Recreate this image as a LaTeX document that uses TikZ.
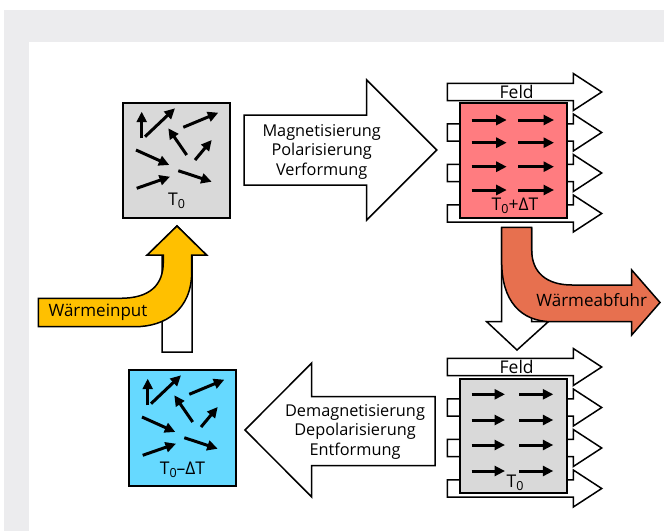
\documentclass[tikz,border=0pt]{standalone}
\usepackage{fontspec}
\setmainfont{Open Sans}
\usetikzlibrary{arrows.meta}
\definecolor{bggray}{HTML}{ECECEE}
\definecolor{boxgray}{HTML}{D9D9D9}
\definecolor{boxcyan}{HTML}{66D9FF}
\definecolor{boxred}{HTML}{FF7C80}
\definecolor{heatorange}{HTML}{E7704F}
\definecolor{heatyellow}{HTML}{FFC000}
\newcommand{\Tnull}{T\raisebox{-0.35ex}{\fontsize{12.5}{12.5}\selectfont 0}}
\begin{document}
\begin{tikzpicture}[x=1pt,y=-1pt,
  outl/.style={draw=black, line width=1.5pt, line join=miter, fill=white},
  boxst/.style={draw=black, line width=2pt},
  vec/.style={line width=3pt, -{Triangle[length=10.5pt,width=10pt]}},
  lbl/.style={font=\fontsize{17.5}{20}\selectfont, inner sep=0pt},
  bigtxt/.style={font=\fontsize{16.3}{19.5}\selectfont, align=center, inner sep=0pt},
  heattxt/.style={font=\fontsize{17}{19}\selectfont, inner sep=0pt}]
\useasboundingbox (0,0) rectangle (664,531);
% background frame
\fill[bggray] (4,10) rectangle (664,531);
\fill[white] (29,42) rectangle (664,531);

% ---- top-left box (T0)
\draw[boxst, fill=boxgray] (123,103) rectangle (230,218);
\begin{scope}
  \draw[vec] (141.7,138.3) -- (141.7,111.7);
  \draw[vec] (145,136.7) -- (175,108.3);
  \draw[vec] (183.3,127.3) -- (218.3,112.7);
  \draw[vec] (186.7,155) -- (168.3,128.3);
  \draw[vec] (195,160) -- (211.7,140);
  \draw[vec] (136,150) -- (169.3,165);
  \draw[vec] (178.3,170.7) -- (211.7,181.7);
  \draw[vec] (136.7,188.3) -- (170,176.7);
\end{scope}
\node[lbl] (t0a) at (176.5,201) {\Tnull};

% ---- bottom-left box (T0-dT)
\draw[boxst, fill=boxcyan] (129,370) rectangle (236,486);
\begin{scope}[shift={(6,267)}]
  \draw[vec] (141.7,138.3) -- (141.7,111.7);
  \draw[vec] (145,136.7) -- (175,108.3);
  \draw[vec] (183.3,127.3) -- (218.3,112.7);
  \draw[vec] (186.7,155) -- (168.3,128.3);
  \draw[vec] (195,160) -- (211.7,140);
  \draw[vec] (136,150) -- (169.3,165);
  \draw[vec] (178.3,170.7) -- (211.7,181.7);
  \draw[vec] (136.7,188.3) -- (170,176.7);
\end{scope}
\node[lbl] (t0c) at (182.5,470) {\Tnull–ΔT};

% ---- big right arrow
\draw[outl] (244,115) -- (366.7,115) -- (366.7,80) -- (436.7,150) -- (366.7,220) -- (366.7,185) -- (244,185) -- cycle;
\node[bigtxt] (mag) at (321.7,151.5) {Magnetisierung\\Polarisierung\\Verformung};

% ---- big left arrow
\draw[outl] (435,396.5) -- (311.7,396.5) -- (311.7,363) -- (245,430) -- (311.7,497) -- (311.7,465.5) -- (435,465.5) -- cycle;
\node[bigtxt] (demag) at (355,431.5) {Demagnetisierung\\Depolarisierung\\Entformung};

% ---- field arrows top-right
\foreach \c in {92,132.5,173,213.5}{
  \draw[outl] (447.3,\c-8.7) -- (573.3,\c-8.7) -- (573.3,\c-18.5) -- (601.7,\c) -- (573.3,\c+18.5) -- (573.3,\c+8.7) -- (447.3,\c+8.7) -- cycle;
}
\node[lbl] (feld1) at (516.7,91.5) {Feld};
\draw[boxst, fill=boxred] (460,103.3) rectangle (566.7,218.3);
\foreach \r in {120,142.7,166.7,190}{
  \draw[vec] (471.7,\r) -- (506.7,\r);
  \draw[vec] (518.3,\r) -- (554,\r);
}
\node[lbl] (t0b) at (515,206) {\Tnull+ΔT};

% ---- field arrows bottom-right
\foreach \c in {367,407.5,448,488.5}{
  \draw[outl] (447.3,\c-8.7) -- (573.3,\c-8.7) -- (573.3,\c-18.5) -- (601.7,\c) -- (573.3,\c+18.5) -- (573.3,\c+8.7) -- (447.3,\c+8.7) -- cycle;
}
\node[lbl] (feld2) at (516.7,366.5) {Feld};
\draw[boxst, fill=boxgray] (460,379) rectangle (566.7,493.3);
\foreach \r in {394.3,420,445,471}{
  \draw[vec] (471.7,\r) -- (505,\r);
  \draw[vec] (519.3,\r) -- (553.3,\r);
}
\node[lbl] (t0d) at (515,483) {\Tnull};

% ---- white down arrow + orange heat removal
\draw[outl] (501.7,228) -- (531.7,228) -- (531.7,321.7) -- (548.3,321.7) -- (517,350) -- (486.7,321.7) -- (501.7,321.7) -- cycle;
\draw[outl, fill=heatorange] (501.7,227.3) -- (501.7,262) .. controls (501.7,300) and (520,321.7) .. (552,321.7) -- (631.7,321.7) -- (631.7,335) -- (660,302.5) -- (631.7,270) -- (631.7,285) -- (572,285) .. controls (546,285) and (531.7,272) .. (531.7,250) -- (531.7,227.3) -- cycle;
\node[heattxt] (abf) at (591.7,300) {Wärmeabfuhr};

% ---- white up arrow + yellow heat input
\draw[outl] (162,352) -- (162,255) -- (147.3,255) -- (177,226) -- (206.5,255) -- (192,255) -- (192,352) -- cycle;
\draw[outl, fill=heatyellow] (38.3,298.3) -- (120,298.3) .. controls (150,298.3) and (163.3,285) .. (163.3,262) -- (163.3,255) -- (147.3,255) -- (177,226) -- (206.5,255) -- (191.7,255) -- (191.7,272) .. controls (191.7,310) and (165,326.7) .. (135,326.7) -- (38.3,326.7) -- cycle;
\node[heattxt] (inp) at (98,312) {Wärmeinput};
\end{tikzpicture}
\end{document}
